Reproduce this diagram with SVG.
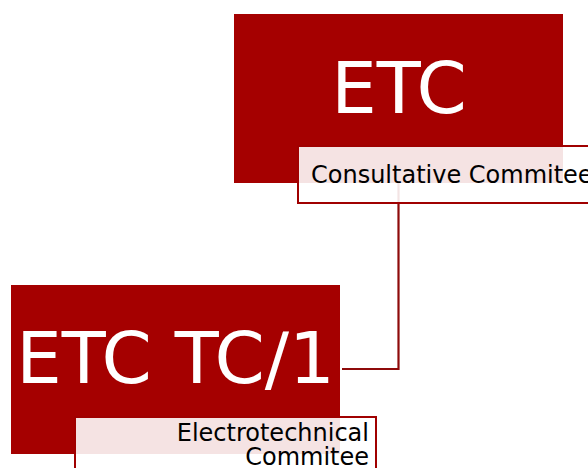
<svg xmlns="http://www.w3.org/2000/svg" width="588" height="468" viewBox="0 0 588 468">
<style>
.node{fill:#a50000}
.lbl{fill:#ffffff;fill-opacity:0.89;stroke:#a00000;stroke-width:2}
.big{font-family:"DejaVu Sans",Verdana,sans-serif;font-size:72px;fill:#ffffff;text-anchor:middle}
.sub{font-family:"DejaVu Sans",Verdana,sans-serif;font-size:24px;fill:#000000}
.conn{fill:none;stroke:#8e0a0a;stroke-width:2.2}
</style>
<rect width="588" height="468" fill="#ffffff"/>
<g id="connectors">
<path class="conn" d="M398.5,183 V369 H342"/>
</g>
<g id="node-etc">
<rect class="node" x="234" y="14" width="329" height="169"/>
<text class="big" x="399" y="113">ETC</text>
<rect class="lbl" x="298" y="146" width="301" height="57"/>
<text class="sub" x="311" y="182.5">Consultative Commitee</text>
</g>
<g id="node-tc1">
<rect class="node" x="11" y="285" width="329" height="169"/>
<text class="big" x="175.5" y="383">ETC TC/1</text>
<rect class="lbl" x="75" y="417" width="301" height="57"/>
<text class="sub" x="369" y="441" text-anchor="end">Electrotechnical</text>
<text class="sub" x="369" y="465" text-anchor="end">Commitee</text>
</g>
</svg>
